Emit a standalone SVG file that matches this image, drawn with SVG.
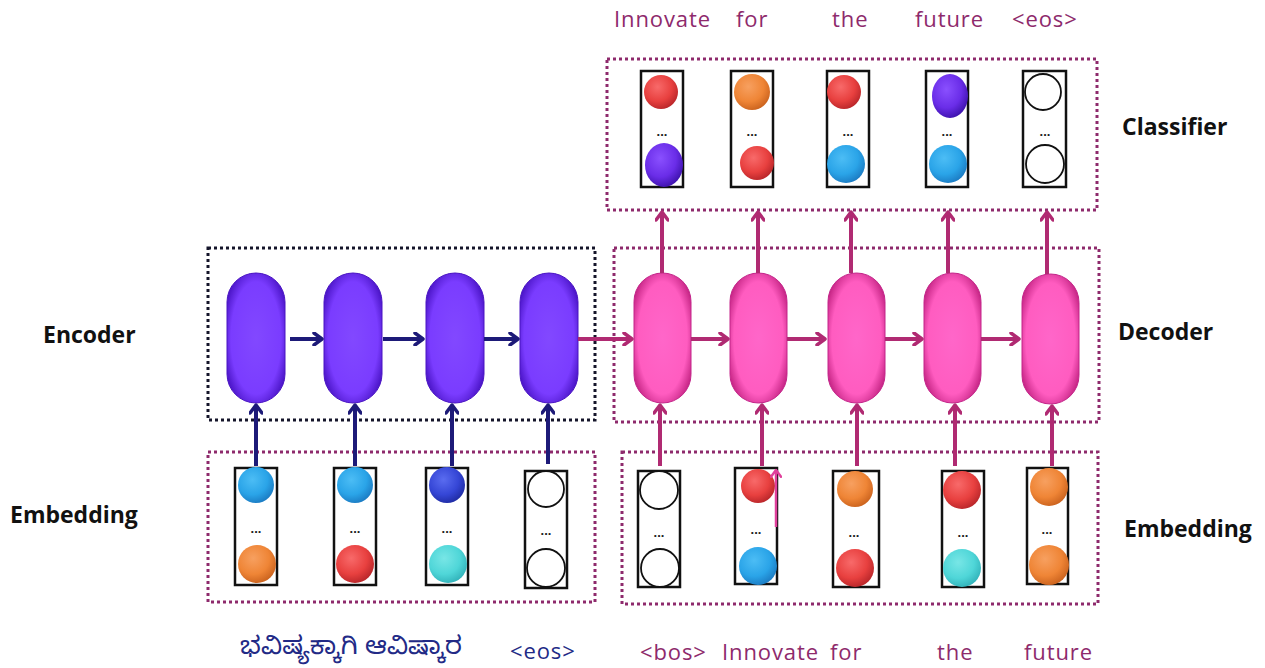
<svg xmlns="http://www.w3.org/2000/svg" width="1265" height="668" viewBox="0 0 1265 668">
<style>
.vec{fill:none;stroke:#111;stroke-width:2.5}
.grpB{fill:none;stroke:#15152a;stroke-width:3;stroke-dasharray:3 3}
.grpM{fill:none;stroke:#8e2a6c;stroke-width:3;stroke-dasharray:3 3}
.enc{fill:url(#gEnc);stroke:#4a14c4;stroke-width:1}
.dec{fill:url(#gDec);stroke:#c4258a;stroke-width:1}
.ea{stroke:#1d1a78;stroke-width:4;fill:none;marker-end:url(#mE)}
.da{stroke:#b02a72;stroke-width:4;fill:none;marker-end:url(#mD)}
.wh{fill:#fff;stroke:#111;stroke-width:1.8}
.dots{font-family:"Liberation Sans",Arial,sans-serif;font-size:13px;font-weight:bold;fill:#222;text-anchor:middle}
.tok{font-family:"Open Sans","Noto Sans",sans-serif;font-size:22px;letter-spacing:0.9px;fill:#8e2a6c}
.tokN{font-family:"Noto Sans Kannada","Noto Sans","Open Sans",sans-serif;font-size:25px;fill:#222a86}
.lbl{font-family:"Open Sans","Noto Sans",sans-serif;font-size:23px;font-weight:bold;fill:#111}
</style>
<defs>
<radialGradient id="gEnc" cx="50%" cy="50%" r="60%"><stop offset="0" stop-color="#8248ff"/><stop offset="0.72" stop-color="#7a3cff"/><stop offset="1" stop-color="#4510c0"/></radialGradient>
<radialGradient id="gDec" cx="50%" cy="50%" r="60%"><stop offset="0" stop-color="#ff66c9"/><stop offset="0.72" stop-color="#ff5cc0"/><stop offset="1" stop-color="#c0207f"/></radialGradient>
<radialGradient id="sBlue" cx="40%" cy="35%" r="70%"><stop offset="0" stop-color="#4cbdf5"/><stop offset="0.6" stop-color="#2aa4e8"/><stop offset="1" stop-color="#1a78c0"/></radialGradient>
<radialGradient id="sOrange" cx="40%" cy="35%" r="70%"><stop offset="0" stop-color="#f7a060"/><stop offset="0.6" stop-color="#ef8536"/><stop offset="1" stop-color="#c8601c"/></radialGradient>
<radialGradient id="sRed" cx="40%" cy="35%" r="70%"><stop offset="0" stop-color="#f86a6a"/><stop offset="0.6" stop-color="#e8403f"/><stop offset="1" stop-color="#b52428"/></radialGradient>
<radialGradient id="sRoyal" cx="40%" cy="35%" r="70%"><stop offset="0" stop-color="#5a6cf0"/><stop offset="0.6" stop-color="#3546d6"/><stop offset="1" stop-color="#1e2aa0"/></radialGradient>
<radialGradient id="sCyan" cx="40%" cy="35%" r="70%"><stop offset="0" stop-color="#78e6e6"/><stop offset="0.6" stop-color="#4fd6d8"/><stop offset="1" stop-color="#30b0b8"/></radialGradient>
<radialGradient id="sPurple" cx="40%" cy="35%" r="70%"><stop offset="0" stop-color="#8a50ff"/><stop offset="0.6" stop-color="#6a2de8"/><stop offset="1" stop-color="#3a10a8"/></radialGradient>
<marker id="mE" viewBox="0 0 12 14" refX="10" refY="7" markerWidth="12" markerHeight="14" markerUnits="userSpaceOnUse" orient="auto"><path d="M2,1 L10,7 L2,13" fill="none" stroke="#1d1a78" stroke-width="3.5" stroke-linecap="round" stroke-linejoin="round"/></marker>
<marker id="mD" viewBox="0 0 12 14" refX="10" refY="7" markerWidth="12" markerHeight="14" markerUnits="userSpaceOnUse" orient="auto"><path d="M2,1 L10,7 L2,13" fill="none" stroke="#b02a72" stroke-width="3.5" stroke-linecap="round" stroke-linejoin="round"/></marker>
<marker id="mP" viewBox="0 0 12 14" refX="10" refY="7" markerWidth="10" markerHeight="12" markerUnits="userSpaceOnUse" orient="auto"><path d="M2,1 L10,7 L2,13" fill="none" stroke="#e0409c" stroke-width="3" stroke-linecap="round" stroke-linejoin="round"/></marker>
</defs>
<rect width="1265" height="668" fill="#fff"/>

<!-- group frames -->
<g id="frames">
<rect class="grpM" x="607" y="59" width="490" height="151"/>
<rect class="grpB" x="208" y="248" width="387" height="172"/>
<rect class="grpM" x="614" y="248" width="485" height="174"/>
<rect class="grpM" x="208" y="452" width="387" height="150"/>
<rect class="grpM" x="622" y="452" width="476" height="152"/>
</g>

<!-- section labels -->
<g id="labels">
<text class="lbl" x="43" y="343">Encoder</text>
<text class="lbl" x="10" y="523">Embedding</text>
<text class="lbl" x="1122" y="135">Classifier</text>
<text class="lbl" x="1118" y="340">Decoder</text>
<text class="lbl" x="1124" y="537">Embedding</text>
</g>

<!-- classifier output vectors -->
<g id="classifier">
<g id="cls1"><rect class="vec" x="641" y="71" width="42" height="116"/><circle cx="661" cy="92" r="17" fill="url(#sRed)"/><text class="dots" x="662" y="136">...</text><ellipse cx="664" cy="165" rx="19" ry="22" fill="url(#sPurple)"/></g>
<g id="cls2"><rect class="vec" x="731" y="71" width="42" height="116"/><circle cx="752" cy="92" r="18" fill="url(#sOrange)"/><text class="dots" x="752" y="136">...</text><circle cx="757" cy="163" r="17" fill="url(#sRed)"/></g>
<g id="cls3"><rect class="vec" x="827" y="71" width="42" height="116"/><circle cx="844" cy="92" r="17" fill="url(#sRed)"/><text class="dots" x="848" y="136">...</text><circle cx="846" cy="164" r="19" fill="url(#sBlue)"/></g>
<g id="cls4"><rect class="vec" x="926" y="71" width="42" height="116"/><ellipse cx="950" cy="96" rx="18" ry="22" fill="url(#sPurple)"/><text class="dots" x="947" y="136">...</text><circle cx="948" cy="164" r="19" fill="url(#sBlue)"/></g>
<g id="cls5"><rect class="vec" x="1023" y="71" width="43" height="116"/><circle class="wh" cx="1043" cy="92" r="18"/><text class="dots" x="1045" y="136">...</text><circle class="wh" cx="1045" cy="164" r="19"/></g>
</g>

<!-- encoder cells -->
<g id="encoder">
<rect id="enc1" class="enc" x="227" y="273" width="58" height="130" rx="29"/>
<rect id="enc2" class="enc" x="324" y="273" width="58" height="130" rx="29"/>
<rect id="enc3" class="enc" x="426" y="273" width="58" height="130" rx="29"/>
<rect id="enc4" class="enc" x="520" y="273" width="58" height="130" rx="29"/>
</g>

<!-- decoder cells -->
<g id="decoder">
<rect id="dec1" class="dec" x="634" y="273" width="57" height="130" rx="28.5"/>
<rect id="dec2" class="dec" x="730" y="273" width="57" height="130" rx="28.5"/>
<rect id="dec3" class="dec" x="828" y="273" width="57" height="130" rx="28.5"/>
<rect id="dec4" class="dec" x="924" y="273" width="57" height="130" rx="28.5"/>
<rect id="dec5" class="dec" x="1022" y="274" width="57" height="130" rx="28.5"/>
</g>

<!-- source embeddings -->
<g id="srcEmbedding">
<g id="se1"><rect class="vec" x="235" y="468" width="42" height="117"/><circle cx="256" cy="485" r="18" fill="url(#sBlue)"/><text class="dots" x="256" y="533">...</text><circle cx="257" cy="564" r="19" fill="url(#sOrange)"/></g>
<g id="se2"><rect class="vec" x="334" y="468" width="42" height="117"/><circle cx="355" cy="485" r="18" fill="url(#sBlue)"/><text class="dots" x="355" y="533">...</text><circle cx="355" cy="564" r="19" fill="url(#sRed)"/></g>
<g id="se3"><rect class="vec" x="426" y="468" width="42" height="117"/><circle cx="447" cy="485" r="18" fill="url(#sRoyal)"/><text class="dots" x="447" y="533">...</text><circle cx="448" cy="564" r="19" fill="url(#sCyan)"/></g>
<g id="se4"><rect class="vec" x="525" y="471" width="42" height="117"/><circle class="wh" cx="546" cy="489" r="18"/><text class="dots" x="546" y="535">...</text><circle class="wh" cx="546" cy="568" r="19"/></g>
</g>

<!-- target embeddings -->
<g id="tgtEmbedding">
<g id="te1"><rect class="vec" x="638" y="471" width="42" height="116"/><circle class="wh" cx="659" cy="490" r="19"/><text class="dots" x="659" y="537">...</text><circle class="wh" cx="660" cy="568" r="19"/></g>
<g id="te2"><rect class="vec" x="735" y="468" width="42" height="116"/><circle cx="758" cy="486" r="17" fill="url(#sRed)"/><text class="dots" x="756" y="534">...</text><circle cx="758" cy="566" r="19" fill="url(#sBlue)"/></g>
<g id="te3"><rect class="vec" x="833" y="471" width="46" height="116"/><circle cx="855" cy="489" r="18" fill="url(#sOrange)"/><text class="dots" x="854" y="537">...</text><circle cx="855" cy="568" r="19" fill="url(#sRed)"/></g>
<g id="te4"><rect class="vec" x="942" y="471" width="42" height="116"/><circle cx="962" cy="490" r="19" fill="url(#sRed)"/><text class="dots" x="963" y="537">...</text><circle cx="962" cy="568" r="19" fill="url(#sCyan)"/></g>
<g id="te5"><rect class="vec" x="1027" y="468" width="41" height="116"/><circle cx="1049" cy="487" r="19" fill="url(#sOrange)"/><text class="dots" x="1047" y="534">...</text><circle cx="1049" cy="565" r="20" fill="url(#sOrange)"/></g>
</g>

<!-- connectors -->
<g id="connectors">
<line class="ea" x1="290" y1="339" x2="322" y2="339"/>
<line class="ea" x1="383" y1="339" x2="423" y2="339"/>
<line class="ea" x1="484" y1="339" x2="518" y2="339"/>
<line class="ea" x1="256" y1="466" x2="256" y2="405"/>
<line class="ea" x1="355" y1="466" x2="355" y2="405"/>
<line class="ea" x1="452" y1="466" x2="452" y2="405"/>
<line class="ea" x1="548" y1="464" x2="548" y2="405"/>
<line class="da" x1="578" y1="339" x2="632" y2="339"/>
<line class="da" x1="691" y1="339" x2="728" y2="339"/>
<line class="da" x1="787" y1="339" x2="825" y2="339"/>
<line class="da" x1="885" y1="339" x2="922" y2="339"/>
<line class="da" x1="981" y1="339" x2="1019" y2="339"/>
<line class="da" x1="660" y1="466" x2="660" y2="405"/>
<line class="da" x1="762" y1="466" x2="762" y2="405"/>
<line class="da" x1="857" y1="466" x2="857" y2="405"/>
<line class="da" x1="955" y1="466" x2="955" y2="405"/>
<line class="da" x1="1052" y1="466" x2="1052" y2="406"/>
<line class="da" x1="662" y1="273" x2="662" y2="212"/>
<line class="da" x1="758" y1="273" x2="758" y2="212"/>
<line class="da" x1="851" y1="273" x2="851" y2="212"/>
<line class="da" x1="948" y1="273" x2="948" y2="212"/>
<line class="da" x1="1047" y1="274" x2="1047" y2="212"/>
<line x1="776" y1="527" x2="776" y2="470" stroke="#e0409c" stroke-width="2.5" marker-end="url(#mP)"/>
</g>

<!-- tokens -->
<g id="outTokens">
<text class="tok" x="614" y="27">Innovate</text>
<text class="tok" x="736" y="27">for</text>
<text class="tok" x="832" y="27">the</text>
<text class="tok" x="915" y="27">future</text>
<text class="tok" x="1012" y="27">&lt;eos&gt;</text>
</g>
<g id="srcTokens">
<text class="tokN" x="240" y="654" textLength="222" lengthAdjust="spacingAndGlyphs">ಭವಿಷ್ಯಕ್ಕಾಗಿ ಆವಿಷ್ಕಾರ</text>
<text class="tok" x="510" y="659" style="fill:#222a86">&lt;eos&gt;</text>
</g>
<g id="inTokens">
<text class="tok" x="640" y="660">&lt;bos&gt;</text>
<text class="tok" x="722" y="660">Innovate</text>
<text class="tok" x="830" y="660">for</text>
<text class="tok" x="937" y="660">the</text>
<text class="tok" x="1024" y="660">future</text>
</g>
</svg>
